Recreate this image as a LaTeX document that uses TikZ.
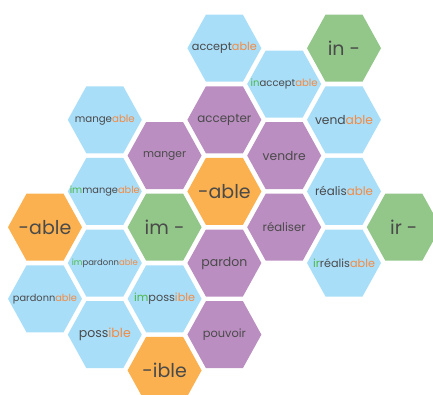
\documentclass[tikz,border=0pt]{standalone}
\usepackage{fontspec}
\usepackage{graphicx}
\setmainfont{Poppins}
\definecolor{hblue}{HTML}{A9DEF9}
\definecolor{hpurple}{HTML}{BB8EC1}
\definecolor{horange}{HTML}{FBB14F}
\definecolor{hgreen}{HTML}{93C78A}
\definecolor{txt}{HTML}{4A4A4A}
\definecolor{suf}{HTML}{F38B43}
\definecolor{pre}{HTML}{4DB848}
\newcommand\sfx[1]{\textcolor{suf}{#1}}
\newcommand\pfx[1]{\textcolor{pre}{#1}}
\newcommand\fsz[1]{\fontsize{#1}{#1}\selectfont}
\newcommand\fitw[2]{\resizebox{#1pt}{!}{#2}}
\newcommand\hx[5]{%
  \fill[#4] (#2,#3) +(37,0) -- +(18.5,33.5) -- +(-18.5,33.5) -- +(-37,0) -- +(-18.5,-33.5) -- +(18.5,-33.5) -- cycle;
  \node[lbl] (#1) at (#2,#3) {#5};}
\begin{document}
\begin{tikzpicture}[x=1pt,y=-1pt,lbl/.style={text=txt,inner sep=0pt}]
\useasboundingbox (0,0) rectangle (433,394);
% column 0
\hx{ableL}{45}{227.2}{horange}{\fsz{19}-able}
\hx{pardonnable}{45}{298.8}{hblue}{\fitw{64}{pardonn\sfx{able}}}
% column 1
\hx{mangeable}{104.8}{119.8}{hblue}{\fitw{60}{mange\sfx{able}}}
\hx{immangeable}{104.8}{191.4}{hblue}{\fitw{70}{\pfx{im}mange\sfx{able}}}
\hx{impardonnable}{104.8}{263}{hblue}{\fitw{66}{\pfx{im}pardonn\sfx{able}}}
\hx{possible}{104.8}{334.6}{hblue}{\fitw{52}{poss\sfx{ible}}}
% column 2
\hx{manger}{164.6}{155.6}{hpurple}{\fitw{43}{manger}}
\hx{im}{164.6}{227.2}{hgreen}{\fsz{19}im -}
\hx{impossible}{164.6}{298.8}{hblue}{\fitw{61}{\pfx{im}poss\sfx{ible}}}
\hx{ible}{164.6}{370.4}{horange}{\fsz{19}-ible}
% column 3
\hx{acceptable}{224.4}{48.2}{hblue}{\fitw{65}{accept\sfx{able}}}
\hx{accepter}{224.4}{119.8}{hpurple}{\fitw{54}{accepter}}
\hx{ableC}{224.4}{191.4}{horange}{\fsz{19}-able}
\hx{pardon}{224.4}{263}{hpurple}{\fitw{46}{pardon}}
\hx{pouvoir}{224.4}{334.6}{hpurple}{\fitw{43}{pouvoir}}
% column 4
\hx{inacceptable}{284.2}{84}{hblue}{\fitw{67}{\pfx{in}accept\sfx{able}}}
\hx{vendre}{284.2}{155.6}{hpurple}{\fitw{43}{vendre}}
\hx{realiser}{284.2}{227.2}{hpurple}{\fitw{43}{réaliser}}
% column 5
\hx{in}{344}{48.2}{hgreen}{\fsz{19}in -}
\hx{vendable}{344}{119.8}{hblue}{\fitw{58}{vend\sfx{able}}}
\hx{realisable}{344}{191.4}{hblue}{\fitw{58}{réalis\sfx{able}}}
\hx{irrealisable}{344}{263}{hblue}{\fitw{62}{\pfx{ir}réalis\sfx{able}}}
% column 6
\hx{ir}{403.8}{227.2}{hgreen}{\fsz{19}ir -}
\end{tikzpicture}
\end{document}
